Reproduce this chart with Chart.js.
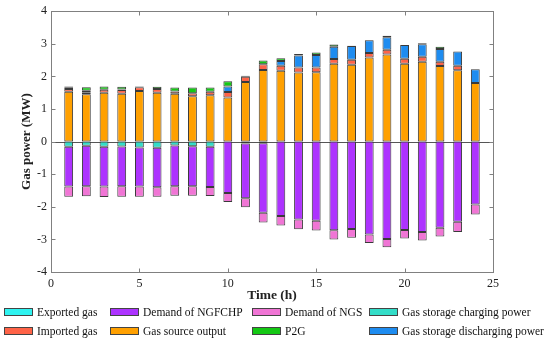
<!DOCTYPE html>
<html>
<head>
<meta charset="utf-8">
<script src="https://cdn.jsdelivr.net/npm/chart.js@4.4.1/dist/chart.umd.min.js"></script>
<style>
    html, body { margin: 0; padding: 0; background: #fff; }
    #wrap { position: relative; width: 550px; height: 341px; font-family: 'Liberation Serif', 'Times New Roman', serif; }
    #chart { position: absolute; left: 0; top: 0; }
    .item { position: absolute; height: 14px; line-height: 14px; font-size: 11.5px; color: #111; white-space: nowrap; }
    .sw { position: absolute; top: 3px; width: 27px; height: 6px; border: 1px solid #444; }
    .lbl { position: absolute; top: 0; }
</style>
</head>
<body>
<div id="wrap">
    <canvas id="chart" width="550" height="341"></canvas>
    <div id="legend"></div>
</div>
<script>
const hours = [1, 2, 3, 4, 5, 6, 7, 8, 9, 10, 11, 12, 13, 14, 15, 16, 17, 18, 19, 20, 21, 22, 23, 24];
const xTicks = [0, 5, 10, 15, 20, 25];
const yTicks = [-4, -3, -2, -1, 0, 1, 2, 3, 4];

// positive side (MW)
const gasSource = [1.53, 1.45, 1.50, 1.47, 1.55, 1.50, 1.47, 1.39, 1.42, 1.35, 1.83, 2.20, 2.17, 2.12, 2.13, 2.39, 2.36, 2.58, 2.67, 2.39, 2.45, 2.32, 2.19, 1.80];
const importedGas = [0.08, 0.06, 0.09, 0.11, 0.12, 0.11, 0.07, 0.09, 0.11, 0.17, 0.16, 0.17, 0.16, 0.15, 0.14, 0.14, 0.15, 0.14, 0.15, 0.15, 0.15, 0.13, 0.14, 0];
const discharging = [0.04, 0.05, 0, 0.02, 0, 0, 0, 0, 0, 0.17, 0, 0, 0.14, 0.37, 0.39, 0.38, 0.42, 0.39, 0.38, 0.42, 0.39, 0.39, 0.43, 0.42];
const p2g = [0.04, 0.11, 0.10, 0.08, 0.02, 0.07, 0.12, 0.18, 0.13, 0.16, 0.03, 0.12, 0.09, 0.05, 0.07, 0.07, 0.01, 0.01, 0.05, 0, 0.03, 0.07, 0, 0];

// negative side (MW)
const charging = [-0.16, -0.13, -0.16, -0.15, -0.18, -0.19, -0.12, -0.14, -0.16, 0, -0.06, -0.05, 0, 0, 0, 0, 0, 0, 0, 0, 0, 0, 0, 0];
const exportedGas = [0, 0, 0, 0, 0, 0, 0, 0, 0, 0, 0, 0, 0, 0, 0, 0, 0, 0, 0, 0, 0, 0, 0, 0];
const demandNGFCHP = [-1.22, -1.24, -1.22, -1.22, -1.20, -1.21, -1.25, -1.23, -1.23, -1.58, -1.68, -2.13, -2.28, -2.39, -2.43, -2.72, -2.68, -2.85, -2.99, -2.71, -2.77, -2.64, -2.46, -1.93];
const demandNGS = [-0.31, -0.31, -0.32, -0.32, -0.31, -0.29, -0.29, -0.29, -0.28, -0.27, -0.27, -0.30, -0.29, -0.30, -0.30, -0.28, -0.27, -0.26, -0.25, -0.26, -0.26, -0.27, -0.31, -0.31];

const colors = {
    exported: '#2ff3f0',
    imported: '#ff6347',
    ngfchp: '#ad33ff',
    source: '#ffa000',
    ngs: '#f075d5',
    p2g: '#14c814',
    charging: '#33ddc8',
    discharging: '#1e8cf0'
};

// legend grid: [label, colour, left, row]
const legendItems = [
    ['Exported gas', colors.exported, 4, 0],
    ['Demand of NGFCHP', colors.ngfchp, 110, 0],
    ['Demand of NGS', colors.ngs, 252, 0],
    ['Gas storage charging power', colors.charging, 369, 0],
    ['Imported gas', colors.imported, 4, 1],
    ['Gas source output', colors.source, 110, 1],
    ['P2G', colors.p2g, 252, 1],
    ['Gas storage discharging power', colors.discharging, 369, 1]
];

function makeSet(label, values, color) {
    return {
        label: label,
        // zero entries are skipped so no empty outlined bar is drawn
        data: hours.map((h, i) => ({ x: h, y: values[i] === 0 ? null : values[i] })),
        backgroundColor: color,
        borderColor: '#3a3a3a',
        borderWidth: 1,
        borderSkipped: false,
        barPercentage: 0.5,
        categoryPercentage: 1.0
    };
}

const framePlugin = {
    id: 'frame',
    beforeDatasetsDraw(chart) {
        const { ctx, chartArea: a, scales: { y } } = chart;
        const y0 = Math.round(y.getPixelForValue(0)) + 0.5;
        ctx.save();
        ctx.strokeStyle = '#555';
        ctx.lineWidth = 1;
        ctx.beginPath();
        ctx.moveTo(a.left, y0);
        ctx.lineTo(a.right, y0);
        ctx.stroke();
        ctx.restore();
    },
    afterDatasetsDraw(chart) {
        const { ctx, chartArea: a, scales: { x, y } } = chart;
        ctx.save();
        ctx.strokeStyle = '#808080';
        ctx.lineWidth = 1;
        const L = Math.round(a.left) + 0.5, R = Math.round(a.right) + 0.5;
        const T = Math.round(a.top) + 0.5, B = Math.round(a.bottom) + 0.5;
        ctx.strokeRect(L, T, R - L, B - T);
        ctx.beginPath();
        xTicks.forEach(v => {
            const px = Math.round(x.getPixelForValue(v)) + 0.5;
            ctx.moveTo(px, B); ctx.lineTo(px, B - 4);
            ctx.moveTo(px, T); ctx.lineTo(px, T + 4);
        });
        yTicks.forEach(v => {
            const py = Math.round(y.getPixelForValue(v)) + 0.5;
            ctx.moveTo(L, py); ctx.lineTo(L + 4, py);
            ctx.moveTo(R, py); ctx.lineTo(R - 4, py);
        });
        ctx.stroke();
        ctx.restore();
    }
};

const tickFont = { family: "'Liberation Serif', serif", size: 12 };

new Chart(document.getElementById('chart').getContext('2d'), {
    type: 'bar',
    data: {
        datasets: [
            makeSet('Gas source output', gasSource, colors.source),
            makeSet('Imported gas', importedGas, colors.imported),
            makeSet('Gas storage discharging power', discharging, colors.discharging),
            makeSet('P2G', p2g, colors.p2g),
            makeSet('Gas storage charging power', charging, colors.charging),
            makeSet('Exported gas', exportedGas, colors.exported),
            makeSet('Demand of NGFCHP', demandNGFCHP, colors.ngfchp),
            makeSet('Demand of NGS', demandNGS, colors.ngs)
        ]
    },
    options: {
        responsive: false,
        animation: false,
        layout: { padding: { top: 8, right: 57, left: 0, bottom: 0 } },
        plugins: {
            legend: { display: false },
            tooltip: { enabled: false }
        },
        scales: {
            x: {
                type: 'linear',
                stacked: true,
                offset: false,
                min: 0,
                max: 25,
                afterBuildTicks: scale => { scale.ticks = xTicks.map(v => ({ value: v })); },
                afterFit: scale => { scale.height = 69; },
                grid: { display: false, drawTicks: false, offset: false },
                border: { display: false },
                ticks: { color: '#222', font: tickFont, padding: 5, maxRotation: 0 },
                title: {
                    display: true,
                    text: 'Time (h)',
                    color: '#222',
                    font: { family: "'Liberation Serif', serif", size: 13.5, weight: 'bold' },
                    padding: { top: 0, bottom: 37 }
                }
            },
            y: {
                stacked: true,
                min: -4,
                max: 4,
                afterBuildTicks: scale => { scale.ticks = yTicks.map(v => ({ value: v })); },
                afterFit: scale => { scale.width = 51; },
                grid: { display: false, drawTicks: false },
                border: { display: false },
                ticks: { color: '#222', font: tickFont, padding: 4 },
                title: {
                    display: true,
                    text: 'Gas power (MW)',
                    color: '#222',
                    font: { family: "'Liberation Serif', serif", size: 13, weight: 'bold' },
                    padding: { top: 19, bottom: 0 }
                }
            }
        }
    },
    plugins: [framePlugin]
});

// legend laid out as the 4 x 2 grid of the original figure
const legendBox = document.getElementById('legend');
legendItems.forEach(([text, color, left, row]) => {
    const item = document.createElement('div');
    item.className = 'item';
    item.style.left = left + 'px';
    item.style.top = (305 + row * 19) + 'px';
    item.innerHTML = `<span class="sw" style="left:0;background:${color}"></span><span class="lbl" style="left:33px">${text}</span>`;
    legendBox.appendChild(item);
});
</script>
</body>
</html>
